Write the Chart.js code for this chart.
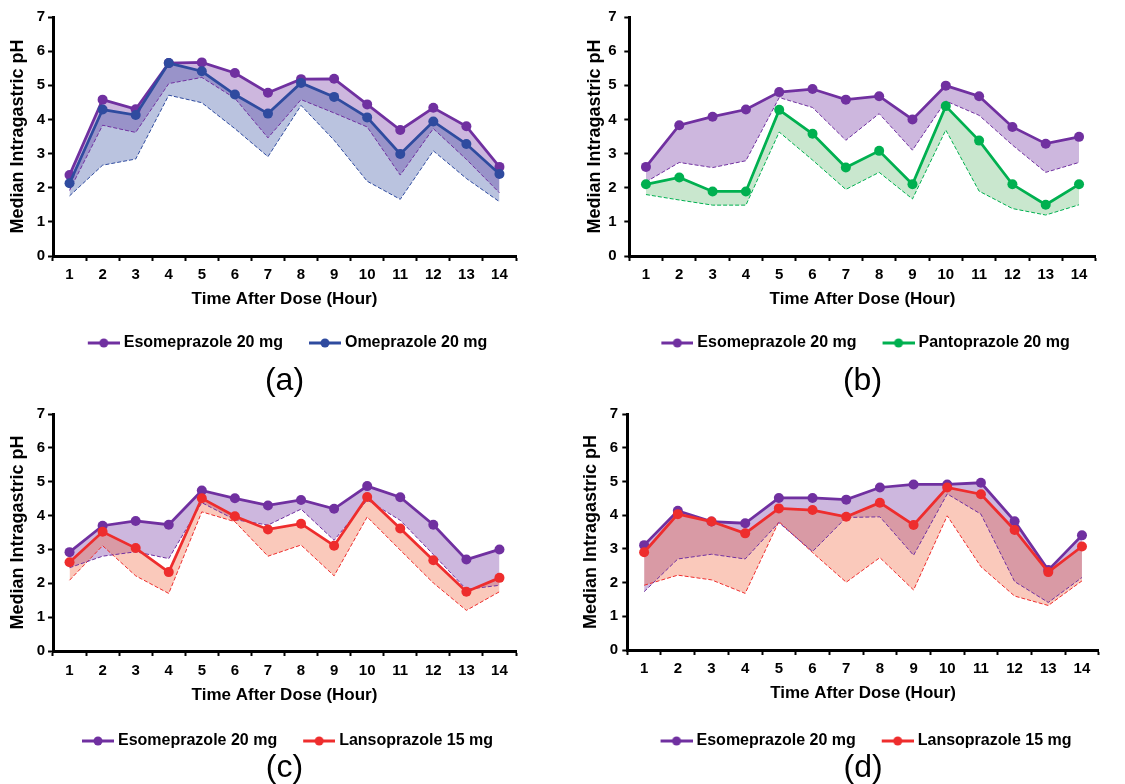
<!DOCTYPE html>
<html>
<head>
<meta charset="utf-8">
<script src="https://cdn.jsdelivr.net/npm/chart.js@4"></script>
<style>
    body { margin: 0; width: 1125px; height: 784px; overflow: hidden; background: #fff; position: relative; }
    canvas { position: absolute; }
</style>
</head>
<body>
<canvas id="chartA" width="560" height="400" style="left:0px; top:0px;"></canvas>
<canvas id="chartB" width="550" height="400" style="left:575px; top:0px;"></canvas>
<canvas id="chartC" width="560" height="386" style="left:0px; top:398px;"></canvas>
<canvas id="chartD" width="550" height="386" style="left:575px; top:398px;"></canvas>
<script>
var hours = ['1', '2', '3', '4', '5', '6', '7', '8', '9', '10', '11', '12', '13', '14'];

// (a) esomeprazole vs omeprazole
var esoA = [2.37, 4.58, 4.30, 5.65, 5.67, 5.36, 4.78, 5.18, 5.19, 4.44, 3.69, 4.34, 3.80, 2.61];
var esoLowA = [1.92, 3.83, 3.62, 5.05, 5.23, 4.62, 3.46, 4.58, 4.19, 3.78, 2.37, 3.73, 2.83, 1.85];
var omeA = [2.13, 4.29, 4.13, 5.65, 5.41, 4.73, 4.17, 5.07, 4.66, 4.06, 2.99, 3.94, 3.28, 2.40];
var omeLowA = [1.76, 2.66, 2.84, 4.71, 4.49, 3.73, 2.91, 4.41, 3.39, 2.19, 1.66, 3.08, 2.27, 1.59];

// (b) esomeprazole vs pantoprazole
var esoB = [2.61, 3.83, 4.08, 4.29, 4.80, 4.89, 4.58, 4.68, 4.00, 4.99, 4.68, 3.78, 3.29, 3.49];
var esoLowB = [2.17, 2.74, 2.59, 2.79, 4.64, 4.35, 3.39, 4.17, 3.10, 4.54, 4.12, 3.25, 2.45, 2.74];
var pantoB = [2.10, 2.30, 1.89, 1.89, 4.28, 3.58, 2.59, 3.08, 2.10, 4.39, 3.38, 2.10, 1.50, 2.10];
var pantoLowB = [1.80, 1.64, 1.49, 1.49, 3.63, 2.81, 1.95, 2.45, 1.67, 3.69, 1.90, 1.39, 1.20, 1.50];

// (c) esomeprazole vs lansoprazole
var esoC = [2.92, 3.70, 3.84, 3.73, 4.74, 4.51, 4.30, 4.46, 4.20, 4.87, 4.54, 3.73, 2.70, 3.00];
var esoLowC = [2.46, 2.80, 2.93, 2.73, 4.38, 3.88, 3.72, 4.19, 3.27, 4.46, 3.86, 2.85, 1.82, 1.94];
var lansoC = [2.62, 3.52, 3.04, 2.33, 4.51, 3.98, 3.59, 3.76, 3.11, 4.55, 3.62, 2.68, 1.75, 2.16];
var lansoLowC = [2.09, 3.11, 2.22, 1.70, 4.11, 3.82, 2.80, 3.13, 2.22, 3.96, 2.98, 2.01, 1.20, 1.75];

// (d) esomeprazole vs lansoprazole
var esoD = [3.11, 4.13, 3.81, 3.76, 4.51, 4.51, 4.46, 4.82, 4.91, 4.91, 4.96, 3.82, 2.37, 3.40];
var esoLowD = [1.73, 2.70, 2.84, 2.70, 3.78, 2.92, 3.93, 3.95, 2.81, 4.63, 4.03, 2.03, 1.41, 2.15];
var lansoD = [2.90, 4.03, 3.81, 3.46, 4.20, 4.15, 3.95, 4.37, 3.71, 4.82, 4.62, 3.56, 2.31, 3.07];
var lansoLowD = [1.92, 2.22, 2.08, 1.68, 3.81, 2.89, 2.01, 2.74, 1.78, 3.98, 2.47, 1.60, 1.32, 2.05];

var colors = {
    eso: { line: '#7030A0', fill: 'rgba(112, 48, 160, 0.35)' },
    ome: { line: '#2F4B9F', fill: 'rgba(46, 74, 158, 0.33)' },
    panto: { line: '#00B050', fill: 'rgba(60, 170, 80, 0.28)' },
    lanso: { line: '#EE2D2D', fill: 'rgba(240, 100, 60, 0.35)' }
};

Chart.defaults.font.family = "'Liberation Sans', Arial, sans-serif";
Chart.defaults.color = '#000';

// line with a dot, like the excel legend marker
function legendIcon(color) {
    var c = document.createElement('canvas');
    c.width = 42;
    c.height = 12;
    var g = c.getContext('2d');
    g.strokeStyle = color;
    g.lineWidth = 3;
    g.beginPath();
    g.moveTo(10, 6);
    g.lineTo(42, 6);
    g.stroke();
    g.fillStyle = color;
    g.beginPath();
    g.arc(26, 6, 4.5, 0, Math.PI * 2);
    g.fill();
    return c;
}

function mainSet(label, data, col, target, order) {
    return {
        label: label,
        data: data,
        borderColor: col.line,
        backgroundColor: col.fill,
        borderWidth: 2.75,
        pointRadius: 5,
        pointBackgroundColor: col.line,
        pointBorderWidth: 0,
        fill: { target: target },
        order: order
    };
}

function lowSet(label, data, col) {
    return {
        label: label,
        data: data,
        borderColor: col.line,
        borderWidth: 1,
        borderDash: [4, 2],
        pointRadius: 0,
        fill: false,
        order: 2
    };
}

function makePanel(id, first, second, caption, box) {
    var datasets = [
        mainSet(first.label, first.data, first.col, 2, 1),
        mainSet(second.label, second.data, second.col, 3, 0),
        lowSet(first.label + ' low', first.low, first.col),
        lowSet(second.label + ' low', second.low, second.col)
    ];

    new Chart(document.getElementById(id), {
        type: 'line',
        data: { labels: hours, datasets: datasets },
        options: {
            responsive: false,
            animation: false,
            layout: { padding: box.padding },
            plugins: {
                filler: { drawTime: 'beforeDatasetsDraw' },
                tooltip: { enabled: false },
                legend: {
                    position: 'bottom',
                    fullSize: false,
                    labels: {
                        usePointStyle: true,
                        pointStyleWidth: 34,
                        padding: 20,
                        color: '#000',
                        font: { size: 16, weight: 'bold' },
                        generateLabels: function (chart) {
                            var items = Chart.defaults.plugins.legend.labels.generateLabels(chart);
                            return items.filter(function (i) { return i.datasetIndex < 2; })
                                .sort(function (a, b) { return a.datasetIndex - b.datasetIndex; })
                                .map(function (i) {
                                    i.pointStyle = legendIcon(chart.data.datasets[i.datasetIndex].borderColor);
                                    return i;
                                });
                        }
                    }
                },
                title: {
                    display: true,
                    position: 'bottom',
                    fullSize: false,
                    text: caption,
                    color: '#000',
                    font: { size: 32, weight: 'normal', lineHeight: box.capLine },
                    padding: { top: box.capPad, bottom: 0 }
                }
            },
            scales: {
                x: {
                    type: 'category',
                    offset: true,
                    border: { color: '#000', width: 3 },
                    grid: { drawOnChartArea: false, drawTicks: true, tickLength: 5, tickWidth: 2, tickColor: '#000', offset: true },
                    ticks: { color: '#000', font: { size: 15, weight: 'bold' }, padding: box.xTickPad, maxRotation: 0, autoSkip: false },
                    title: {
                        display: true,
                        text: 'Time After Dose (Hour)',
                        color: '#000',
                        font: { size: 17, weight: 'bold' },
                        padding: { top: 0, bottom: box.xTitlePad }
                    },
                    afterFit: function (s) { s.height = box.xHeight; }
                },
                y: {
                    min: 0,
                    max: 7,
                    border: { color: '#000', width: 3 },
                    grid: { drawOnChartArea: false, drawTicks: true, tickLength: 5, tickWidth: 2, tickColor: '#000' },
                    ticks: { stepSize: 1, color: '#000', font: { size: 15, weight: 'bold' }, padding: box.yTickPad },
                    title: {
                        display: true,
                        text: 'Median Intragastric pH',
                        color: '#000',
                        font: { size: 18, weight: 'bold' },
                        padding: { top: box.yTitlePad, bottom: 0 }
                    },
                    afterFit: function (s) { s.width = box.yWidth; }
                }
            }
        }
    });
}

makePanel('chartA',
    { label: 'Esomeprazole 20 mg', data: esoA, low: esoLowA, col: colors.eso },
    { label: 'Omeprazole 20 mg', data: omeA, low: omeLowA, col: colors.ome },
    '(a)',
    { padding: { left: 2, top: 17, right: 44, bottom: 3 }, yWidth: 51, yTitlePad: 5.7, yTickPad: 3,
      xHeight: 59, xTickPad: 5, xTitlePad: 5.8, capLine: 1, capPad: 4 });

makePanel('chartB',
    { label: 'Esomeprazole 20 mg', data: esoB, low: esoLowB, col: colors.eso },
    { label: 'Pantoprazole 20 mg', data: pantoB, low: pantoLowB, col: colors.panto },
    '(b)',
    { padding: { left: 2, top: 17, right: 29.3, bottom: 3 }, yWidth: 52.3, yTitlePad: 7.2, yTickPad: 7.6,
      xHeight: 59, xTickPad: 5, xTitlePad: 5.8, capLine: 1, capPad: 4 });

makePanel('chartC',
    { label: 'Esomeprazole 20 mg', data: esoC, low: esoLowC, col: colors.eso },
    { label: 'Lansoprazole 15 mg', data: lansoC, low: lansoLowC, col: colors.lanso },
    '(c)',
    { padding: { left: 2, top: 16, right: 44, bottom: 7 }, yWidth: 51, yTitlePad: 5.7, yTickPad: 3,
      xHeight: 62, xTickPad: 5.7, xTitlePad: 7.8, capLine: 0.5625, capPad: 0 });

makePanel('chartD',
    { label: 'Esomeprazole 20 mg', data: esoD, low: esoLowD, col: colors.eso },
    { label: 'Lansoprazole 15 mg', data: lansoD, low: lansoLowD, col: colors.lanso },
    '(d)',
    { padding: { left: 2, top: 16, right: 26.2, bottom: 7 }, yWidth: 50.3, yTitlePad: 3.7, yTickPad: 4.3,
      xHeight: 63, xTickPad: 5, xTitlePad: 9.8, capLine: 0.5625, capPad: 0 });
</script>
</body>
</html>
